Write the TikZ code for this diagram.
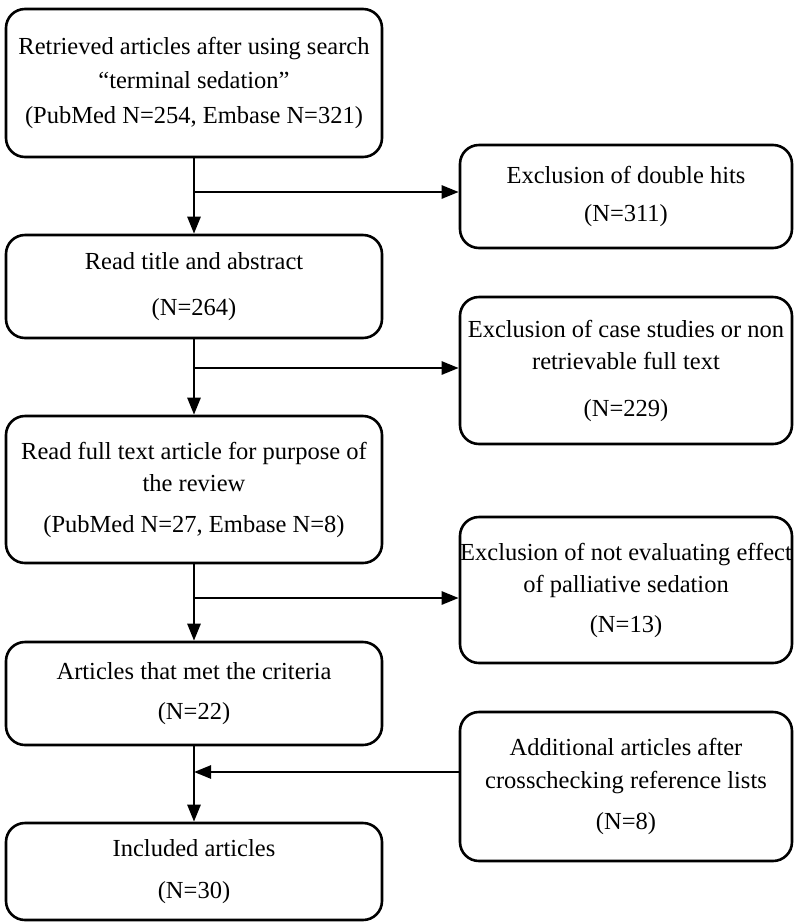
\documentclass[tikz,border=0pt]{standalone}
\usepackage{fontspec}
\setmainfont{Liberation Serif}
\usetikzlibrary{arrows.meta}
\tikzset{
  box/.style={draw, line width=2.6pt, rounded corners=19pt, align=center, inner sep=0pt,
    font=\fontsize{24.5}{32.5}\selectfont},
  lbox/.style={box, minimum width=376pt},
  rbox/.style={box, minimum width=332pt}
}
\begin{document}
\begin{tikzpicture}[x=1pt, y=1pt, >={Triangle[length=17pt,width=13pt]}, line width=2.6pt]
                \useasboundingbox (0,0) rectangle (794,-922);
                
                \node[lbox, minimum height=148pt] (B1) at (194,-83) {Retrieved articles after using search\\[1pt] ``terminal sedation''\\[3pt] (PubMed N=254, Embase N=321)};
                \node[lbox, minimum height=103pt] (B2) at (194,-286.5) {Read title and abstract\\[14pt] (N=264)};
                \node[lbox, minimum height=147pt] (B3) at (194,-489.5) {Read full text article for purpose of\\ the review\\[8pt] (PubMed N=27, Embase N=8)};
                \node[lbox, minimum height=103pt] (B4) at (194,-693.5) {Articles that met the criteria\\[7pt] (N=22)};
                \node[lbox, minimum height=97pt] (B5) at (194,-871.5) {Included articles\\[9pt] (N=30)};
                
                \node[rbox, minimum height=103pt] (E1) at (626,-196.5) {Exclusion of double hits\\[6pt] (N=311)};
                \node[rbox, minimum height=147pt] (E2) at (626,-370.5) {Exclusion of case studies or non\\ retrievable full text\\[14pt] (N=229)};
                \node[rbox, minimum height=146pt] (E3) at (626,-590) {Exclusion of not evaluating effect\\ of palliative sedation\\[7pt] (N=13)};
                \node[rbox, minimum height=149pt] (A) at (626,-786.5) {Additional articles after\\ crosschecking reference lists\\[9pt] (N=8)};
                
                \coordinate (J1) at (194,-192);
                \coordinate (J2) at (194,-368);
                \coordinate (J3) at (194,-598);
                \coordinate (J4) at (194,-772);
                
                \draw[->] (B1) -- (B2);
                \draw[->] (B2) -- (B3);
                \draw[->] (B3) -- (B4);
                \draw[->] (B4) -- (B5);
                
                \draw[->] (J1) -- (J1 -| E1.west);
                \draw[->] (J2) -- (J2 -| E2.west);
                \draw[->] (J3) -- (J3 -| E3.west);
                \draw[->] (J4 -| A.west) -- (J4);
            \end{tikzpicture}
\end{document}
